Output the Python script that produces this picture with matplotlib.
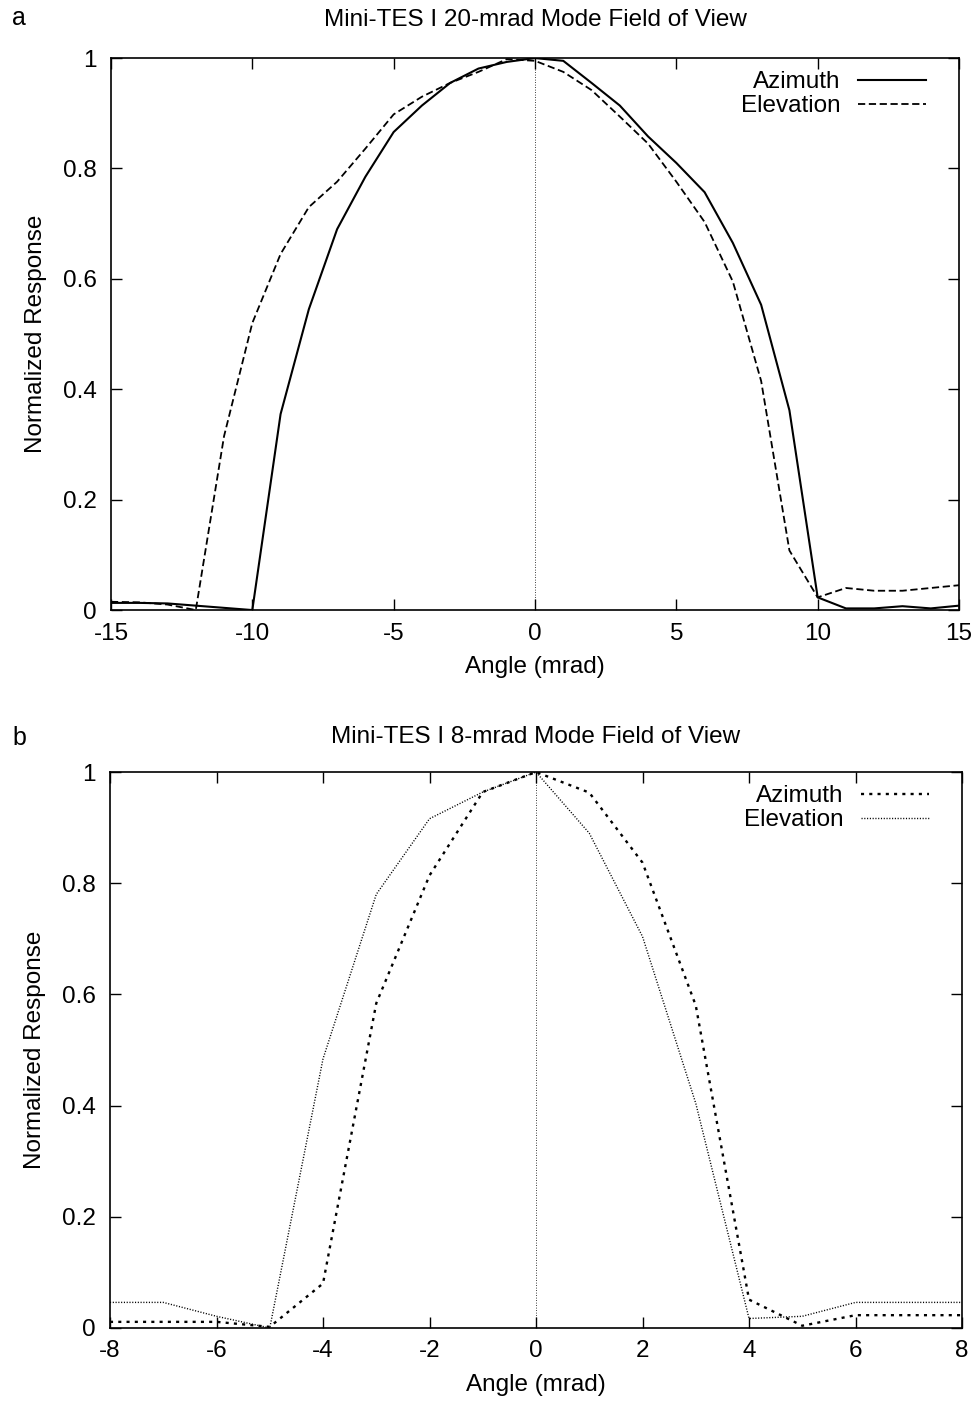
import numpy as np
import matplotlib
matplotlib.use("Agg")
import matplotlib.pyplot as plt
from matplotlib.ticker import FuncFormatter

plt.rcParams['font.family'] = ['Liberation Sans', 'DejaVu Sans']
plt.rcParams['font.size'] = 17.5

# panel a: 20-mrad mode
angle_a = list(range(-15, 16))
azimuth_a = [0.013, 0.013, 0.012, 0.008, 0.004, 0.0, 0.355, 0.545, 0.69, 0.785,
             0.866, 0.914, 0.955, 0.981, 0.993, 1.0, 0.995, 0.955, 0.914, 0.858,
             0.81, 0.757, 0.665, 0.553, 0.362, 0.023, 0.003, 0.003, 0.007, 0.003, 0.008]
elevation_a = [0.015, 0.014, 0.01, 0.0, 0.315, 0.52, 0.645, 0.73, 0.776, 0.836,
               0.898, 0.93, 0.955, 0.975, 0.998, 0.995, 0.975, 0.942, 0.894, 0.845,
               0.776, 0.703, 0.595, 0.415, 0.108, 0.023, 0.04, 0.035, 0.035, 0.04, 0.045]

# panel b: 8-mrad mode
angle_b = list(range(-8, 9))
azimuth_b = [0.011, 0.011, 0.011, 0.002, 0.08, 0.584, 0.814, 0.964, 1.0,
             0.963, 0.837, 0.58, 0.051, 0.004, 0.023, 0.023, 0.023]
elevation_b = [0.046, 0.046, 0.021, 0.0, 0.484, 0.78, 0.916, 0.964, 1.0,
               0.89, 0.704, 0.404, 0.017, 0.021, 0.046, 0.046, 0.046]


def fmt(v, pos):
    return "%g" % round(v, 2)


def style_axes(ax, xlim, xticks):
    ax.set_xlim(xlim)
    ax.set_ylim(0, 1)
    ax.set_xticks(xticks)
    ax.set_yticks([0, 0.2, 0.4, 0.6, 0.8, 1.0])
    ax.yaxis.set_major_formatter(FuncFormatter(fmt))
    ax.xaxis.set_major_formatter(FuncFormatter(fmt))
    ax.tick_params(direction='in', length=8, width=1, top=True, right=True)
    ax.tick_params(axis='y', pad=10)
    ax.tick_params(axis='x', pad=9)
    for s in ax.spines.values():
        s.set_linewidth(1.2)
    ax.axvline(0, color='black', lw=0.6, ls=(0, (1, 2)), zorder=1)
    ax.set_xlabel("Angle (mrad)", labelpad=8)
    ax.set_ylabel("Normalized Response", labelpad=12)
    ax.legend(loc='upper right', bbox_to_anchor=(1 - 20 / 848, 1), frameon=False,
              markerfirst=False, handlelength=2.8, borderaxespad=0.1, borderpad=0.45,
              labelspacing=0.08, handletextpad=0.7)


fig = plt.figure(figsize=(9.76, 14.06), dpi=100)

ax1 = fig.add_axes([0.1137, 0.5661, 0.8689, 0.3926])
ax1.plot(angle_a, azimuth_a, color='black', lw=1.5, label="Azimuth")
ax1.plot(angle_a, elevation_a, color='black', lw=1.3, ls=(0, (4, 2)), label="Elevation")
style_axes(ax1, (-15, 15), [-15, -10, -5, 0, 5, 10, 15])
ax1.set_title("Mini-TES I 20-mrad Mode Field of View", fontsize=17.5, pad=23)
fig.text(12 / 976, 1 - 18 / 1406, "a", fontsize=18, va='center', ha='left')

ax2 = fig.add_axes([0.1127, 0.0555, 0.873, 0.3954])
ax2.plot(angle_b, azimuth_b, color='black', lw=1.7, ls=(0, (1.3, 2.2)), label="Azimuth")
ax2.plot(angle_b, elevation_b, color='black', lw=1.0, ls=(0, (0.8, 1.2)), label="Elevation")
style_axes(ax2, (-8, 8), [-8, -6, -4, -2, 0, 2, 4, 6, 8])
ax2.set_title("Mini-TES I 8-mrad Mode Field of View", fontsize=17.5, pad=21)
fig.text(12 / 976, 1 - 738 / 1406, "b", fontsize=18, va='center', ha='left')

plt.savefig("out.png", dpi=100)
plt.close()
